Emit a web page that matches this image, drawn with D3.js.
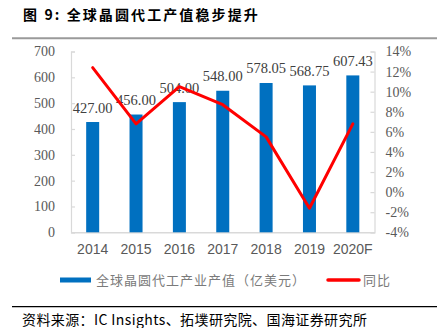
<!DOCTYPE html>
<html>
<head>
<meta charset="utf-8">
<script src="https://cdn.jsdelivr.net/npm/d3@7"></script>
<style>
  html, body { margin: 0; padding: 0; background: #fff; }
  svg { display: block; }
</style>
</head>
<body>
<svg id="chart" width="437" height="328"></svg>
<script>
// Global foundry output (100M USD) and year-over-year growth (%)
const years = ["2014", "2015", "2016", "2017", "2018", "2019", "2020F"];
const output = [427.00, 456.00, 504.00, 548.00, 578.05, 568.75, 607.43];
const growth = [12.4, 6.8, 10.5, 8.7, 5.5, -1.6, 6.8];
const leftTicks = [0, 100, 200, 300, 400, 500, 600, 700];
const rightTicks = [-4, -2, 0, 2, 4, 6, 8, 10, 12, 14];

const titleText = "图 9:  全球晶圆代工产值稳步提升";
const barLegend = "全球晶圆代工产业产值（亿美元）";
const lineLegend = "同比";
const sourceText = "资料来源：IC Insights、拓墣研究院、国海证券研究所";

const svg = d3.select("#chart");
const cjk = "'Noto Sans CJK SC', 'Noto Sans', sans-serif";
const serif = "'Liberation Serif', 'Times New Roman', serif";
const sans = "'Liberation Sans', Arial, sans-serif";

const plot = { left: 71, right: 374.5, top: 51.5, bottom: 232.3 };

const x = d3.scaleBand().domain(years).range([plot.left, plot.right]).paddingInner(0.7).paddingOuter(0.35);
const yL = d3.scaleLinear().domain([0, 700]).range([plot.bottom, plot.top]);
const yR = d3.scaleLinear().domain([-4, 14]).range([plot.bottom, plot.top]);

// Title and rule
svg.append("text")
  .attr("x", 23).attr("y", 20)
  .attr("font-family", cjk).attr("font-weight", "bold")
  .attr("font-size", 14).attr("letter-spacing", 2.1)
  .attr("fill", "#000")
  .text(titleText);
svg.append("line").attr("x1", 12).attr("x2", 437).attr("y1", 38.3).attr("y2", 38.3)
  .attr("stroke", "#9a9a9a").attr("stroke-width", 2);

// Axes
const axisColor = "#d9d9d9";
const labelColor = "#595959";

const leftAxis = svg.append("g").attr("transform", `translate(${plot.left},0)`)
  .call(d3.axisLeft(yL).tickValues(leftTicks).tickSize(-4).tickPadding(16).tickFormat(d3.format("d")));
const rightAxis = svg.append("g").attr("transform", `translate(${plot.right},0)`)
  .call(d3.axisRight(yR).tickValues(rightTicks).tickSize(-4).tickPadding(11).tickFormat(d => d + "%"));
const bottomAxis = svg.append("g").attr("transform", `translate(0,${plot.bottom})`)
  .call(d3.axisBottom(x).tickSize(0).tickPadding(12));

[leftAxis, rightAxis].forEach(g => {
  g.selectAll("path.domain").attr("stroke", axisColor).attr("stroke-width", 1.2);
  g.selectAll(".tick line").attr("stroke", axisColor).attr("stroke-width", 1.2);
  g.selectAll(".tick text").attr("font-family", serif).attr("font-size", 14).attr("fill", labelColor);
});
bottomAxis.select("path.domain").attr("stroke", axisColor).attr("stroke-width", 1.5);
bottomAxis.selectAll(".tick text").attr("font-family", sans).attr("font-size", 14).attr("fill", labelColor);

// Bars
svg.append("g").selectAll("rect").data(years).join("rect")
  .attr("x", d => x(d))
  .attr("width", x.bandwidth())
  .attr("y", (d, i) => yL(output[i]))
  .attr("height", (d, i) => yL(0) - yL(output[i]))
  .attr("fill", "#0070c0");

// Value labels
svg.append("g").selectAll("text").data(years).join("text")
  .attr("x", d => x(d) + x.bandwidth() / 2)
  .attr("y", (d, i) => yL(output[i]) - 9.5)
  .attr("text-anchor", "middle")
  .attr("font-family", serif).attr("font-size", 14.5)
  .attr("fill", "#404040")
  .text((d, i) => output[i].toFixed(2));

// Growth line
const line = d3.line()
  .x((d, i) => x(years[i]) + x.bandwidth() / 2)
  .y(d => yR(d));
svg.append("path").datum(growth)
  .attr("d", line)
  .attr("fill", "none")
  .attr("stroke", "#ff0000")
  .attr("stroke-width", 3)
  .attr("stroke-linejoin", "round")
  .attr("stroke-linecap", "round");

// Legend
const legend = svg.append("g");
legend.append("rect").attr("x", 60).attr("y", 277.5).attr("width", 31).attr("height", 5).attr("fill", "#0070c0");
legend.append("text").attr("x", 96).attr("y", 285)
  .attr("font-family", cjk).attr("font-size", 13).attr("letter-spacing", 1)
  .attr("fill", "#7a7a7a").text(barLegend);
legend.append("line").attr("x1", 328).attr("x2", 359).attr("y1", 280).attr("y2", 280)
  .attr("stroke", "#ff0000").attr("stroke-width", 3.5).attr("stroke-linecap", "round");
legend.append("text").attr("x", 363).attr("y", 285)
  .attr("font-family", cjk).attr("font-size", 13).attr("letter-spacing", 1)
  .attr("fill", "#7a7a7a").text(lineLegend);

// Source note
svg.append("line").attr("x1", 12).attr("x2", 437).attr("y1", 306.7).attr("y2", 306.7)
  .attr("stroke", "#000").attr("stroke-width", 1.2);
svg.append("text").attr("x", 22).attr("y", 325)
  .attr("font-family", cjk).attr("font-size", 14).attr("letter-spacing", 0.4)
  .attr("fill", "#000").text(sourceText);
</script>
</body>
</html>
